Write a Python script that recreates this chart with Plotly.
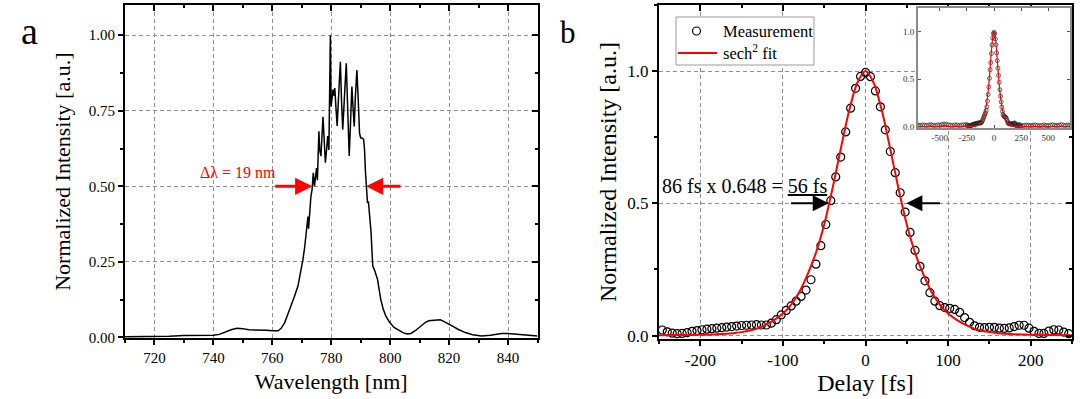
import plotly.graph_objects as go

# ---------------- data: panel a (spectrum) ----------------
wavelength_nm = [710, 715, 720, 725, 730, 735, 740, 742, 744, 746, 748, 750, 752, 755, 758, 760, 762,
                 763, 764.2, 765.2, 766.4, 767.5, 768.7, 769.6, 770.4, 771.0, 771.5, 771.9, 772.1, 772.3,
                 772.5, 773.1, 773.5, 773.9, 774.3, 774.6, 775.0, 775.3, 775.8, 776.1, 776.5, 777.2, 777.6,
                 778.0, 778.4, 778.8, 779.2, 779.7, 779.95, 780.3, 780.6, 780.9, 781.2, 781.6, 782.0, 782.5,
                 783.1, 783.5, 783.9, 784.5, 785.1, 785.6, 786.1, 786.5, 787.0, 787.4, 787.8, 788.2, 788.7,
                 789.1, 789.6, 790.0, 790.5, 791.0, 791.3, 791.6, 791.9, 792.1, 792.3, 792.6, 792.9, 793.2,
                 793.5, 793.8, 794.1, 794.8, 795.7, 796.8, 797.6, 798.5, 799.8, 801.3, 803, 804.5, 805.8,
                 807, 808.5, 810.3, 812, 813.1, 814.5, 816, 817, 818, 819.5, 821, 823, 825.5, 828, 831, 834,
                 837.8, 840, 842.3, 845, 849, 850]
spectrum_int = [0.002, 0.002, 0.003, 0.004, 0.006, 0.006, 0.007, 0.010, 0.018, 0.025, 0.030, 0.029, 0.025,
                0.025, 0.024, 0.022, 0.022, 0.030, 0.049, 0.075, 0.104, 0.135, 0.170, 0.215, 0.258, 0.300,
                0.346, 0.370, 0.400, 0.360, 0.390, 0.467, 0.490, 0.545, 0.500, 0.530, 0.560, 0.520, 0.682,
                0.620, 0.600, 0.730, 0.660, 0.578, 0.620, 0.666, 0.620, 1.000, 0.764, 0.790, 0.820, 0.800,
                0.825, 0.760, 0.700, 0.800, 0.912, 0.780, 0.687, 0.800, 0.907, 0.750, 0.600, 0.700, 0.830,
                0.760, 0.698, 0.800, 0.885, 0.800, 0.676, 0.660, 0.660, 0.655, 0.620, 0.550, 0.480, 0.460,
                0.445, 0.450, 0.420, 0.400, 0.350, 0.290, 0.236, 0.220, 0.192, 0.126, 0.095, 0.071, 0.050,
                0.033, 0.022, 0.015, 0.011, 0.013, 0.022, 0.038, 0.050, 0.055, 0.056, 0.055, 0.058, 0.054,
                0.045, 0.038, 0.027, 0.016, 0.009, 0.005, 0.007, 0.013, 0.013, 0.011, 0.008, 0.005, 0.005]

# ---------------- data: panel b (autocorrelation) ----------------
delay_fs = [-246, -240, -234, -228, -222, -216, -210, -204, -198, -192, -186, -180, -174, -168, -162, -156,
            -150, -144, -138, -132, -126, -120, -114, -108, -102, -96, -90, -84, -78, -72, -66, -60, -54,
            -48, -42, -36, -30, -24, -18, -12, -6, 0, 6, 12, 18, 24, 30, 36, 42, 48, 54, 60, 66, 72, 78,
            84, 90, 96, 102, 108, 114, 120, 126, 132, 138, 144, 150, 156, 162, 168, 174, 180, 186, 192,
            198, 204, 210, 216, 222, 228, 234, 240, 246]
measured = [0.021, 0.014, 0.009, 0.007, 0.008, 0.011, 0.016, 0.019, 0.022, 0.024, 0.026, 0.028, 0.030,
            0.032, 0.034, 0.036, 0.038, 0.039, 0.040, 0.041, 0.040, 0.040, 0.047, 0.060, 0.078, 0.095,
            0.112, 0.130, 0.148, 0.172, 0.211, 0.270, 0.340, 0.420, 0.510, 0.600, 0.675, 0.770, 0.860,
            0.935, 0.980, 0.995, 0.979, 0.925, 0.865, 0.778, 0.696, 0.616, 0.540, 0.467, 0.390, 0.322,
            0.262, 0.207, 0.162, 0.130, 0.113, 0.106, 0.103, 0.099, 0.088, 0.068, 0.050, 0.037, 0.031,
            0.030, 0.031, 0.031, 0.028, 0.027, 0.029, 0.034, 0.039, 0.039, 0.028, 0.016, 0.008, 0.008,
            0.017, 0.022, 0.021, 0.013, 0.007]

fit_delay_fs = [-700, -250, -200, -180, -160, -150, -140, -130, -120, -110, -100, -90, -80, -70, -60, -50,
                -40, -30, -20, -10, 0, 10, 20, 30, 40, 50, 60, 70, 80, 90, 100, 110, 120, 130, 140, 150,
                160, 180, 200, 250, 700]
fit_int = [0.0, 0.001, 0.003, 0.005, 0.009, 0.013, 0.019, 0.028, 0.042, 0.060, 0.083, 0.117, 0.165, 0.232,
           0.313, 0.420, 0.555, 0.705, 0.848, 0.955, 1.000, 0.955, 0.848, 0.705, 0.555, 0.420, 0.313,
           0.232, 0.165, 0.117, 0.083, 0.060, 0.042, 0.028, 0.019, 0.013, 0.009, 0.005, 0.003, 0.001, 0.0]

# inset: wide-range wings of the measurement
wing_left_delay = [-700, -680, -660, -640, -620, -600, -580, -560, -540, -520, -500, -480, -460, -440,
                   -420, -400, -380, -360, -340, -320, -300, -280, -260]
wing_left_int = [0.018, 0.015, 0.020, 0.017, 0.014, 0.019, 0.022, 0.016, 0.015, 0.020, 0.018, 0.024,
                 0.030, 0.026, 0.020, 0.017, 0.015, 0.021, 0.019, 0.014, 0.018, 0.022, 0.020]
wing_right_delay = [260, 280, 300, 320, 340, 360, 380, 400, 420, 440, 460, 480, 500, 520, 540, 560, 580,
                    600, 620, 640, 660, 680, 700]
wing_right_int = [0.012, 0.015, 0.018, 0.016, 0.013, 0.017, 0.020, 0.015, 0.012, 0.016, 0.019, 0.014,
                  0.013, 0.017, 0.021, 0.016, 0.014, 0.018, 0.022, 0.017, 0.015, 0.019, 0.016]

# tick labels
spec_ticks = [720, 740, 760, 780, 800, 820, 840]
spec_int_ticks = [0.0, 0.25, 0.5, 0.75, 1.0]
ac_ticks = [-200, -100, 0, 100, 200]
ac_tick_text = ["-200", "-100", "0", "100", "200"]
ac_int_ticks = [0.0, 0.5, 1.0]
inset_ticks = [-500, -250, 0, 250, 500]
inset_tick_text = ["-500", "-250", "0", "250", "500"]

# legend entries
legend_labels = ["Measurement", "sech<sup>2</sup> fit"]

# FWHM markers
spec_half_edges = [773.6, 791.8]
spec_arrow_tails = [760.5, 804.0]
ac_half_edges = [-44.5, 49.5]
ac_arrow_tails = [-92.0, 92.0]

# ---------------- figure ----------------
FONT = "Liberation Serif"
W, H = 1086, 399

def px_x(p):
    return p / W

def px_y(p):
    return 1 - p / H

fig = go.Figure()

fig.add_trace(go.Scatter(x=wavelength_nm, y=spectrum_int, mode="lines",
                         line=dict(color="black", width=1.5), showlegend=False,
                         xaxis="x", yaxis="y"))

fig.add_trace(go.Scatter(x=delay_fs, y=measured, mode="markers", name=legend_labels[0],
                         marker=dict(symbol="circle-open", size=8, color="black",
                                     line=dict(width=1.2, color="black")),
                         showlegend=False, xaxis="x2", yaxis="y2"))
fig.add_trace(go.Scatter(x=fit_delay_fs, y=fit_int, mode="lines", name=legend_labels[1],
                         line=dict(color="#ff0000", width=2, shape="spline", smoothing=0.8),
                         showlegend=False, xaxis="x2", yaxis="y2"))

# inset traces
inset_delay = wing_left_delay + delay_fs + wing_right_delay
inset_int = wing_left_int + measured + wing_right_int
fig.add_trace(go.Scatter(x=inset_delay, y=inset_int, mode="markers", showlegend=False,
                         marker=dict(symbol="circle-open", size=4, color="#222",
                                     line=dict(width=0.7, color="#222")),
                         xaxis="x3", yaxis="y3"))
fig.add_trace(go.Scatter(x=fit_delay_fs, y=fit_int, mode="lines", showlegend=False,
                         line=dict(color="#ff0000", width=1.2, shape="spline", smoothing=0.8),
                         xaxis="x3", yaxis="y3"))

# dummy traces for mirror (inward tick) axes
fig.add_trace(go.Scatter(x=[], y=[], xaxis="x4", yaxis="y4", showlegend=False, hoverinfo="skip"))
fig.add_trace(go.Scatter(x=[], y=[], xaxis="x5", yaxis="y5", showlegend=False, hoverinfo="skip"))

dom_xa = [px_x(125), px_x(537.5)]
dom_ya = [px_y(338.3), px_y(5)]
dom_xb = [px_x(659), px_x(1072)]
dom_yb = [px_y(339), px_y(5)]
rng_xa = [710, 850]
rng_ya = [-0.003, 1.1]
rng_xb = [-250, 250]
rng_yb = [-0.013, 1.25]

grid = dict(showgrid=True, gridcolor="#8f8f8f", griddash="4px,3px", gridwidth=1)


def base_ax(tsize):
    return dict(showline=True, linecolor="black", linewidth=2, mirror=True, ticks="outside",
                ticklen=5, tickwidth=1.5, tickcolor="black", automargin=False,
                tickfont=dict(family=FONT, size=tsize, color="black"), zeroline=False, **grid)


def mirror_ax(over, side, anchor, rng, tickvals, minor_dtick):
    return dict(overlaying=over, side=side, anchor=anchor, range=rng, tickvals=tickvals,
                ticks="inside", ticklen=6, tickwidth=1.5, tickcolor="black", showticklabels=False,
                showgrid=False, showline=False, zeroline=False, automargin=False,
                minor=dict(dtick=minor_dtick, tick0=0, ticks="inside", ticklen=3, tickcolor="black",
                           showgrid=False))


fig.update_layout(
    width=W, height=H, margin=dict(l=0, r=0, t=0, b=0, autoexpand=False),
    paper_bgcolor="white", plot_bgcolor="white", showlegend=False,
    xaxis=dict(domain=dom_xa, range=rng_xa, anchor="y", tickvals=spec_ticks,
               title=dict(text="Wavelength [nm]", font=dict(family=FONT, size=22, color="black"), standoff=8),
               minor=dict(dtick=10, tick0=0, ticks="outside", ticklen=3, tickcolor="black", showgrid=False),
               **base_ax(15)),
    yaxis=dict(domain=dom_ya, range=rng_ya, anchor="x", tickvals=spec_int_ticks, tickformat=".2f",
               title=dict(text="Normalized Intensity [a.u.]", font=dict(family=FONT, size=22, color="black"),
                          standoff=12),
               minor=dict(dtick=0.125, tick0=0, ticks="outside", ticklen=3, tickcolor="black", showgrid=False),
               **base_ax(15)),
    xaxis2=dict(domain=dom_xb, range=rng_xb, anchor="y2", tickvals=ac_ticks, ticktext=ac_tick_text,
                title=dict(text="Delay [fs]", font=dict(family=FONT, size=24, color="black"), standoff=4),
                minor=dict(dtick=50, tick0=0, ticks="outside", ticklen=3, tickcolor="black", showgrid=False),
                **base_ax(17)),
    yaxis2=dict(domain=dom_yb, range=rng_yb, anchor="x2", tickvals=ac_int_ticks, tickformat=".1f",
                title=dict(text="Normalized Intensity [a.u.]", font=dict(family=FONT, size=24, color="black"),
                           standoff=4),
                minor=dict(dtick=0.25, tick0=0, ticks="outside", ticklen=3, tickcolor="black", showgrid=False),
                **base_ax(17)),
    # inset
    xaxis3=dict(domain=[px_x(918), px_x(1070)], range=[-700, 700], anchor="y3",
                tickvals=inset_ticks, ticktext=inset_tick_text, automargin=False,
                ticks="inside", ticklen=3, tickwidth=1, tickcolor="#555", showline=True,
                linecolor="#8a8a8a", linewidth=2, mirror="ticks", showgrid=False, zeroline=False,
                tickfont=dict(family=FONT, size=9, color="#333")),
    yaxis3=dict(domain=[px_y(128), px_y(8)], range=[-0.013, 1.25], anchor="x3",
                tickvals=ac_int_ticks, tickformat=".1f", automargin=False,
                ticks="inside", ticklen=3, tickwidth=1, tickcolor="#555", showline=True,
                linecolor="#8a8a8a", linewidth=2, mirror="ticks", showgrid=False, zeroline=False,
                tickfont=dict(family=FONT, size=9, color="#333")),
    # inward ticks on top/right of both panels
    xaxis4=mirror_ax("x", "top", "y4", rng_xa, spec_ticks, 10),
    yaxis4=mirror_ax("y", "right", "x4", rng_ya, spec_int_ticks, 0.125),
    xaxis5=mirror_ax("x2", "top", "y5", rng_xb, ac_ticks, 50),
    yaxis5=mirror_ax("y2", "right", "x5", rng_yb, ac_int_ticks, 0.25),
)

# hand-drawn legend box for panel b
shapes = [
    dict(type="rect", xref="paper", yref="paper", x0=px_x(676), x1=px_x(814), y0=px_y(65), y1=px_y(17),
         line=dict(color="#9a9a9a", width=1), fillcolor="white", layer="above"),
    dict(type="circle", xref="paper", yref="paper", x0=px_x(692.5), x1=px_x(700.5), y0=px_y(35),
         y1=px_y(27), line=dict(color="black", width=1.2), fillcolor="rgba(0,0,0,0)", layer="above"),
    dict(type="line", xref="paper", yref="paper", x0=px_x(678), x1=px_x(717), y0=px_y(53), y1=px_y(53),
         line=dict(color="#ff0000", width=2), layer="above"),
]

annotations = [
    dict(text="a", x=px_x(29), y=px_y(44), xref="paper", yref="paper", showarrow=False,
         xanchor="center", yanchor="bottom", yshift=-10,
         font=dict(family=FONT, size=38, color="black")),
    dict(text="b", x=px_x(568), y=px_y(44), xref="paper", yref="paper", showarrow=False,
         xanchor="center", yanchor="bottom", yshift=-8,
         font=dict(family=FONT, size=31, color="black")),
    dict(text=legend_labels[0], x=px_x(721), y=px_y(31), xref="paper", yref="paper", showarrow=False,
         xanchor="left", yanchor="middle", font=dict(family=FONT, size=16.5, color="black")),
    dict(text=legend_labels[1], x=px_x(721), y=px_y(52), xref="paper", yref="paper", showarrow=False,
         xanchor="left", yanchor="middle", font=dict(family=FONT, size=16.5, color="black")),
    dict(text="Δλ = 19 nm", x=748.2, y=0.545, xref="x", yref="y", showarrow=False,
         font=dict(family=FONT, size=16, color="#ff0000")),
    dict(text="86 fs x 0.648 = <u>56 fs</u>", x=-146, y=0.565, xref="x2", yref="y2", showarrow=False,
         font=dict(family=FONT, size=20, color="black")),
]
for tip, tail in zip(spec_half_edges, spec_arrow_tails):
    annotations.append(dict(x=tip, y=0.5, ax=tail, ay=0.5, xref="x", yref="y", axref="x", ayref="y",
                            text="", showarrow=True, arrowhead=2, arrowsize=1.15, arrowwidth=3,
                            arrowcolor="#ff0000", standoff=0))
for tip, tail in zip(ac_half_edges, ac_arrow_tails):
    annotations.append(dict(x=tip, y=0.5, ax=tail, ay=0.5, xref="x2", yref="y2", axref="x2", ayref="y2",
                            text="", showarrow=True, arrowhead=2, arrowsize=1.6, arrowwidth=2,
                            arrowcolor="black", standoff=0))
fig.update_layout(annotations=annotations, shapes=shapes)

fig.write_html("out.html", config={"displayModeBar": False},
               post_script="document.body.style.margin='0px';document.body.style.overflow='hidden';")
